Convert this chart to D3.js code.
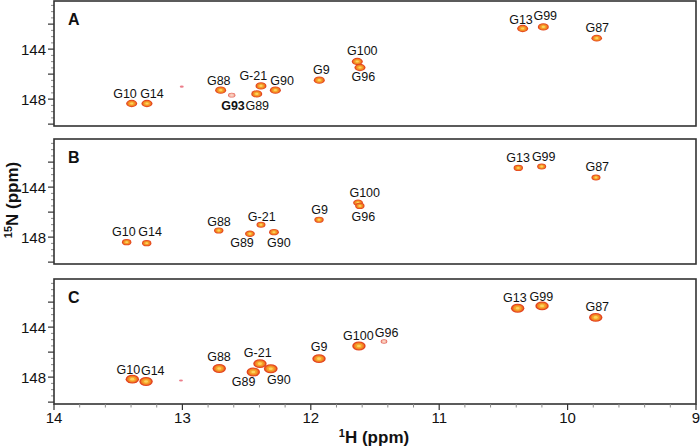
<!DOCTYPE html>
<html><head><meta charset="utf-8">
<script src="https://cdn.jsdelivr.net/npm/d3@7"></script>
<style>body{margin:0;background:#fff;} svg{display:block;font-family:"Liberation Sans",Arial,Helvetica,sans-serif;}</style>
</head><body><svg id="c" width="700" height="446"></svg>
<script>
// ---------------- DATA ----------------
const panelNames = ["A", "B", "C"];
const xTickValues = [14, 13, 12, 11, 10, 9];
const yTickLabelValues = [144, 148];

// Panel A
const resA = ["G10","G14","G88","G93","G-21","G89","G90","G9","G100","G96","G13","G99","G87",""];
const hA   = [13.395,13.276,12.702,12.616,12.388,12.421,12.276,11.934,11.638,11.617,10.350,10.189,9.773,13.005];
const nA   = [148.35,148.35,147.28,147.68,146.94,147.58,147.28,146.48,144.99,145.47,142.35,142.22,143.12,147.00];
const iA   = [1.0,1.0,1.0,0.55,1.0,1.0,1.0,1.0,1.0,1.0,1.0,1.0,0.95,0.12];
const lhA  = [13.447,13.237,12.717,12.606,12.448,12.417,12.224,11.918,11.599,11.591,10.363,10.174,9.769,null];
const lnA  = [147.52,147.52,146.51,148.54,146.11,148.54,146.51,145.66,144.14,146.19,141.60,141.34,142.30,null];
const boldA = ["G93"];

// Panel B
const resB = ["G10","G14","G88","G-21","G89","G90","G9","G100","G96","G13","G99","G87"];
const hB   = [13.434,13.278,12.717,12.388,12.474,12.287,11.936,11.632,11.618,10.384,10.202,9.779];
const nB   = [148.40,148.48,147.47,147.01,147.73,147.60,146.61,145.25,145.50,142.46,142.35,143.23];
const iB   = [0.8,0.8,0.8,0.75,0.85,0.85,0.8,0.85,0.8,0.8,0.75,0.75];
const lhB  = [13.456,13.252,12.715,12.382,12.536,12.249,11.931,11.580,11.591,10.386,10.186,9.769];
const lnB  = [147.52,147.58,146.72,146.32,148.46,148.46,145.82,144.40,146.38,141.60,141.52,142.32];
const boldB = [];

// Panel C
const resC = ["G10","G14","G88","G-21","G89","G90","G9","G100","G96","G13","G99","G87",""];
const hC   = [13.390,13.283,12.713,12.396,12.448,12.312,11.936,11.625,11.430,10.389,10.199,9.781,13.011];
const nC   = [148.16,148.35,147.31,146.92,147.59,147.33,146.52,145.51,145.15,142.49,142.30,143.22,148.27];
const iC   = [1.3,1.3,1.3,1.3,1.3,1.35,1.3,1.3,0.45,1.3,1.3,1.3,0.12];
const lhC  = [13.421,13.231,12.715,12.413,12.523,12.249,11.935,11.630,11.409,10.411,10.205,9.769,null];
const lnC  = [147.38,147.49,146.34,146.01,148.35,148.22,145.56,144.65,144.39,141.63,141.55,142.36,null];
const boldC = [];

// ---------------- LAYOUT ----------------
const svg = d3.select("#c");
const left = 54, right = 696, panelH = 125;
const panelTops = [1, 139, 279];
const x = d3.scaleLinear().domain([14, 9]).range([left, right]);

const panels = [
  {res: resA, h: hA, n: nA, inten: iA, lh: lhA, ln: lnA, bold: boldA},
  {res: resB, h: hB, n: nB, inten: iB, lh: lhB, ln: lnB, bold: boldB},
  {res: resC, h: hC, n: nC, inten: iC, lh: lhC, ln: lnC, bold: boldC}
];

const rx = d3.scaleLinear().domain([0, 1]).range([1.5, 5.5]);
const levelFracs = [1, 0.78, 0.55, 0.3];
const strongCols = ["#e3441f", "#f07e22", "#f6a42b", "#fcd45e"];
const weakCols = ["#e46c62", "#f4ab9b", "#f8c4b2", "#fbd8c8"];

const defs = svg.append("defs");

panels.forEach((p, pi) => {
  const top = panelTops[pi];
  const y = d3.scaleLinear().domain([140.15, 150.15]).range([top, top + panelH]);
  const g = svg.append("g");

  defs.append("clipPath").attr("id", "clip" + pi)
    .append("rect").attr("x", left).attr("y", top).attr("width", right - left).attr("height", panelH);

  // peaks
  const pk = g.append("g").attr("clip-path", `url(#clip${pi})`);
  p.h.forEach((hv, i) => {
    const I = p.inten[i];
    const R = rx(I), Ry = R * 0.66;
    const cx = x(hv), cy = y(p.n[i]);
    if (I < 0.3) {
      pk.append("ellipse").attr("cx", cx).attr("cy", cy).attr("rx", R).attr("ry", Ry * 0.8)
        .attr("fill", "#ec7d8a");
      return;
    }
    const cols = I < 0.6 ? weakCols : strongCols;
    levelFracs.forEach((f, k) => {
      pk.append("ellipse").attr("cx", cx).attr("cy", cy)
        .attr("rx", R * f).attr("ry", Ry * f)
        .attr("fill", cols[k]);
    });
  });

  // labels
  p.res.forEach((r, i) => {
    if (!r || p.lh[i] == null) return;
    g.append("text").attr("x", x(p.lh[i])).attr("y", y(p.ln[i]))
      .attr("dy", "0.36em").attr("text-anchor", "middle")
      .attr("font-size", 12.5).attr("fill", "#111")
      .attr("font-weight", p.bold.includes(r) ? "bold" : "normal")
      .text(r);
  });

  // y ticks
  const minorY = d3.range(140.5, 150.1, 0.5).filter(v => v % 2 !== 0);
  const majorY = d3.range(142, 150.1, 2);
  g.selectAll(".ym").data(minorY).enter().append("line")
    .attr("x1", left - 3).attr("x2", left).attr("y1", d => y(d)).attr("y2", d => y(d))
    .attr("stroke", "#8a8a8a").attr("stroke-width", 1);
  g.selectAll(".yM").data(majorY).enter().append("line")
    .attr("x1", left - 6).attr("x2", left).attr("y1", d => y(d)).attr("y2", d => y(d))
    .attr("stroke", "#333").attr("stroke-width", 1.2);
  g.selectAll(".yl").data(yTickLabelValues).enter().append("text")
    .attr("x", left - 8).attr("y", d => y(d)).attr("dy", "0.36em")
    .attr("text-anchor", "end").attr("font-size", 15).attr("fill", "#111").text(d => d);

  // frame
  g.append("rect").attr("x", left).attr("y", top).attr("width", right - left).attr("height", panelH)
    .attr("fill", "none").attr("stroke", "#333").attr("stroke-width", 1.6);

  // panel letter
  g.append("text").attr("x", 68).attr("y", top + 24).attr("font-size", 16)
    .attr("font-weight", "bold").attr("fill", "#111").text(panelNames[pi]);
});

// x axis (bottom of panel C)
const axY = panelTops[2] + panelH;
const minorX = d3.range(9, 14.001, 0.2).filter(v => Math.abs(v - Math.round(v)) > 0.01);
svg.selectAll(".xm").data(minorX).enter().append("line")
  .attr("x1", d => x(d)).attr("x2", d => x(d)).attr("y1", axY).attr("y2", axY + 3.5)
  .attr("stroke", "#8a8a8a").attr("stroke-width", 1);
svg.selectAll(".xM").data(xTickValues).enter().append("line")
  .attr("x1", d => x(d)).attr("x2", d => x(d)).attr("y1", axY).attr("y2", axY + 6)
  .attr("stroke", "#333").attr("stroke-width", 1.2);
svg.selectAll(".xl").data(xTickValues).enter().append("text")
  .attr("x", d => x(d)).attr("y", axY + 14).attr("dy", "0.36em")
  .attr("text-anchor", "middle").attr("font-size", 15).attr("fill", "#111").text(d => d);

// axis titles
const xt = svg.append("text").attr("x", 374).attr("y", 443).attr("text-anchor", "middle")
  .attr("font-size", 17).attr("font-weight", "bold").attr("fill", "#111");
xt.append("tspan").attr("font-size", 11).attr("dy", -6).text("1");
xt.append("tspan").attr("dy", 6).text("H (ppm)");

const yt = svg.append("text").attr("transform", "translate(18,200) rotate(-90)")
  .attr("text-anchor", "middle").attr("font-size", 17).attr("font-weight", "bold").attr("fill", "#111");
yt.append("tspan").attr("font-size", 11).attr("dy", -6).text("15");
yt.append("tspan").attr("dy", 6).text("N (ppm)");
</script>
</body></html>
